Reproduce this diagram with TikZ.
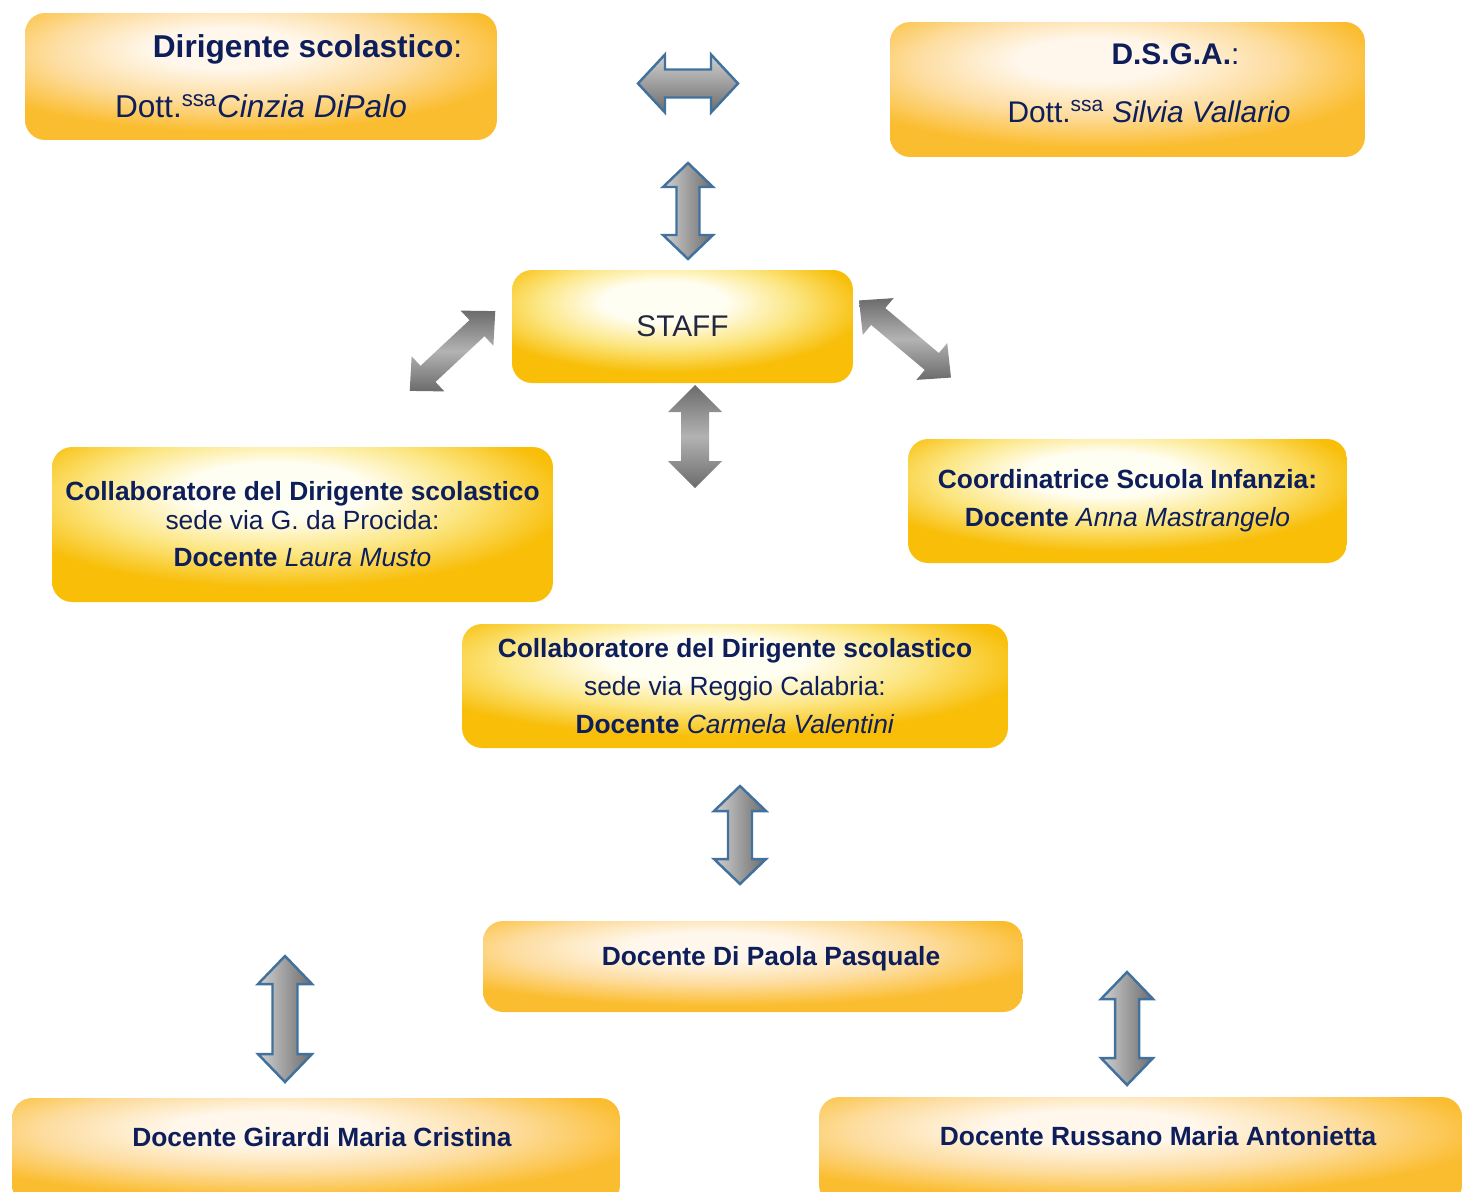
\documentclass[tikz,border=0pt]{standalone}
\usepackage{fontspec}
\setmainfont{Liberation Sans}
\usepackage{tikz}

\definecolor{navytext}{RGB}{14,30,90}
\definecolor{stafftext}{RGB}{35,40,65}
\definecolor{arrowedge}{RGB}{65,113,156}
\definecolor{peachlight}{RGB}{255,247,235}
\definecolor{peachmid}{RGB}{253,221,160}
\definecolor{peachedge}{RGB}{251,189,48}
\definecolor{goldlight}{RGB}{255,254,242}
\definecolor{goldmid}{RGB}{252,230,130}
\definecolor{goldedge}{RGB}{248,190,8}

\pgfdeclareradialshading{peachshade}{\pgfpoint{-4bp}{12bp}}{color(0bp)=(peachlight); color(8bp)=(peachlight); color(19bp)=(peachmid); color(30bp)=(peachedge); color(100bp)=(peachedge)}
\pgfdeclareradialshading{goldshade}{\pgfpoint{-3bp}{12bp}}{color(0bp)=(goldlight); color(9bp)=(goldlight); color(19bp)=(goldmid); color(29bp)=(goldedge); color(100bp)=(goldedge)}

% block double arrow: style, centre, angle, length, head length, head half width, shaft half width
\newcommand{\dblarrow}[7]{%
  \path[#1, shift={#2}, rotate=#3] (-#4/2,0) -- ++(#5,-#6) -- ++(0,#6-#7) -- (#4/2-#5,-#7) -- ++(0,#7-#6)
    -- (#4/2,0) -- ++(-#5,#6) -- ++(0,#7-#6) -- (-#4/2+#5,#7) -- ++(0,#6-#7) -- cycle;}

\tikzset{
  peachbox/.style={shade, shading=peachshade, rounded corners=0.4cm, text=navytext, align=center, inner sep=0pt},
  goldbox/.style={shade, shading=goldshade, rounded corners=0.4cm, text=navytext, align=center, inner sep=0pt},
  arrblue/.style={draw=arrowedge, line width=1.4pt, left color=black!18, right color=black!58},
  arrbluehor/.style={draw=arrowedge, line width=1.4pt, top color=black!18, bottom color=black!58},
  arrgray/.style={top color=black!58, bottom color=black!58, middle color=black!30}
}

\begin{document}
\begin{tikzpicture}[x=0.02cm, y=-0.02cm]
  \clip (0,0) rectangle (1462,1191);

  % --- top row ---
  \node[peachbox, minimum width=9.44cm, minimum height=2.54cm, font=\fontsize{18}{34}\selectfont] (dirigente) at (261,76.5)
    {\hspace*{53pt}\textbf{Dirigente scolastico}:\\ Dott.\textsuperscript{ssa}\textit{Cinzia DiPalo}};
  \node[peachbox, minimum width=9.5cm, minimum height=2.7cm, font=\fontsize{17}{33}\selectfont] (dsga) at (1127.5,89.5)
    {\hspace*{54.6pt}\textbf{D.S.G.A.}:\\ \hspace*{24.5pt}Dott.\textsuperscript{ssa} \textit{Silvia Vallario}\rule[-7.4pt]{0pt}{0pt}};

  \dblarrow{arrbluehor}{(688,83.5)}{0}{100}{27}{29}{14}
  \dblarrow{arrblue}{(688,211)}{90}{96}{24}{25}{11.5}

  % --- staff ---
  \node[goldbox, text=stafftext, minimum width=6.82cm, minimum height=2.26cm, font=\fontsize{17}{20}\selectfont] (staff) at (682.5,326.5) {STAFF};

  \dblarrow{arrgray}{(452.5,351)}{43}{117}{25}{24}{11}
  \dblarrow{arrgray}{(905,339)}{-40}{120}{25}{24}{11}
  \dblarrow{arrgray}{(695,436.5)}{90}{103}{27}{27}{14}

  % --- collaboratori ---
  \node[goldbox, minimum width=10.02cm, minimum height=3.1cm, font=\fontsize{15}{16}\selectfont] (procida) at (302.5,524.5)
    {\textbf{Collaboratore del Dirigente scolastico}\\ sede via G. da Procida:\\[5.6pt] \textbf{Docente} \textit{Laura Musto}};
  \node[goldbox, minimum width=8.78cm, minimum height=2.48cm, font=\fontsize{15}{21.5}\selectfont] (coord) at (1127.5,501)
    {\textbf{Coordinatrice Scuola Infanzia:}\\ \textbf{Docente} \textit{Anna Mastrangelo}};
  \node[goldbox, minimum width=10.92cm, minimum height=2.48cm, font=\fontsize{15}{21.5}\selectfont] (reggio) at (735,686)
    {\textbf{Collaboratore del Dirigente scolastico}\\ sede via Reggio Calabria:\\ \textbf{Docente} \textit{Carmela Valentini}};

  \dblarrow{arrblue}{(740,835)}{90}{98}{25}{26}{12}

  % --- docenti ---
  \node[peachbox, minimum width=10.8cm, minimum height=1.82cm, font=\fontsize{15}{18}\selectfont\bfseries] (dipaola) at (753,966.5)
    {\hspace*{20.5pt}Docente Di Paola Pasquale\rule[-12pt]{0pt}{0pt}};

  \dblarrow{arrblue}{(285,1019)}{90}{126}{28}{27}{12.5}
  \dblarrow{arrblue}{(1127,1028.5)}{90}{113}{27}{26}{12}

  \node[peachbox, minimum width=12.16cm, minimum height=2.14cm, font=\fontsize{15}{18}\selectfont\bfseries] (girardi) at (316,1151.5)
    {\hspace*{6.8pt}Docente Girardi Maria Cristina\rule[-16.5pt]{0pt}{0pt}};
  \node[peachbox, minimum width=12.86cm, minimum height=2.16cm, font=\fontsize{15}{18}\selectfont\bfseries] (russano) at (1140.5,1151)
    {\hspace*{20pt}Docente Russano Maria Antonietta\rule[-17pt]{0pt}{0pt}};
\end{tikzpicture}
\end{document}
